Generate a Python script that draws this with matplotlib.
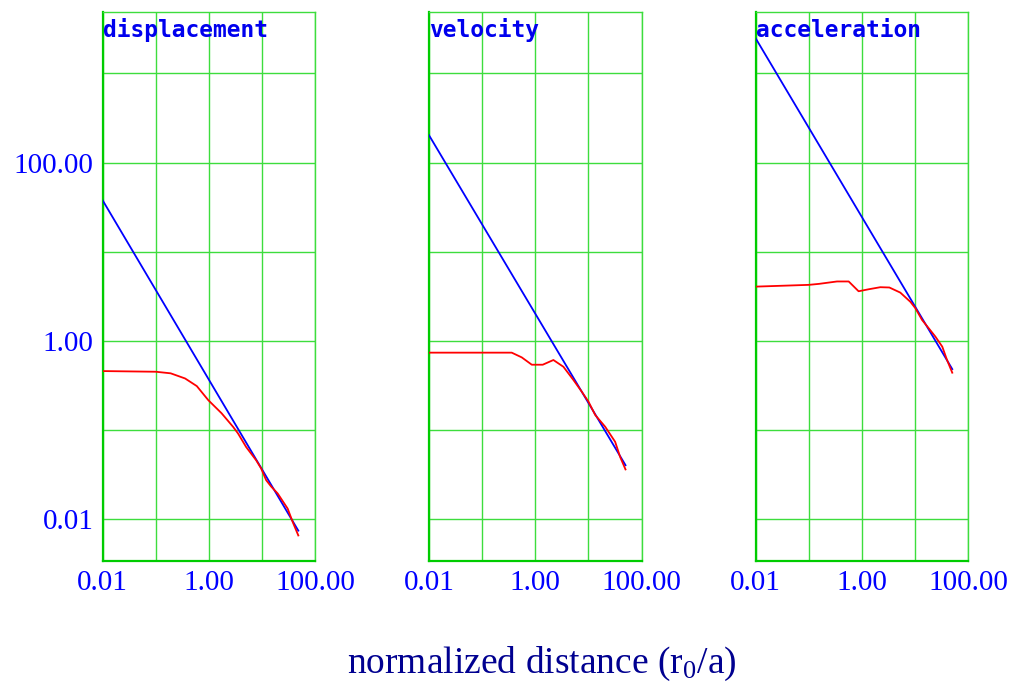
import matplotlib
matplotlib.use("Agg")
import matplotlib.pyplot as plt
import matplotlib.transforms as mtransforms

# ---- data ----
titles = ["displacement", "velocity", "acceleration"]

disp_red_x = [0.01, 0.1, 0.19, 0.355, 0.59, 0.97, 1.72, 2.84, 3.52, 5.01, 7.71, 9.57, 11.9, 14.7, 19.6, 30.2, 37.6, 47.9]
disp_red_y = [0.460, 0.452, 0.434, 0.380, 0.312, 0.217, 0.155, 0.109, 0.0918, 0.0646, 0.046, 0.0372, 0.0275, 0.0234, 0.0195, 0.0132, 0.00933, 0.0066]
disp_blue_x = [0.01, 47.9]
disp_blue_y = [37.7, 0.00747]

vel_red_x = [0.01, 0.36, 0.556, 0.859, 1.38, 2.19, 3.38, 5.22, 7.52, 10.0, 13.4, 20.7, 31.8, 39.5, 49.8]
vel_red_y = [0.740, 0.740, 0.655, 0.542, 0.542, 0.612, 0.514, 0.365, 0.269, 0.209, 0.148, 0.109, 0.074, 0.050, 0.0363]
vel_blue_x = [0.01, 49.8]
vel_blue_y = [203.0, 0.0405]

acc_red_x = [0.01, 0.1, 0.155, 0.339, 0.562, 0.863, 1.33, 2.21, 3.27, 5.25, 8.13, 10.1, 13.5, 18.0, 24.0, 32.4, 39.8, 49.9]
acc_red_y = [4.07, 4.26, 4.37, 4.65, 4.65, 3.61, 3.80, 4.01, 3.98, 3.49, 2.75, 2.33, 1.72, 1.39, 1.12, 0.863, 0.612, 0.441]
acc_blue_x = [0.01, 49.9]
acc_blue_y = [2474.0, 0.484]

x_ticks = [0.01, 0.1, 1, 10, 100]
x_ticklabels = ["0.01", "", "1.00", "", "100.00"]
y_ticks = [0.01, 0.1, 1, 10, 100, 1000]
y_ticklabels = ["0.01", "", "1.00", "", "100.00", ""]
x_label = "normalized distance (r$_0$/a)"

series = [
    (disp_red_x, disp_red_y, disp_blue_x, disp_blue_y),
    (vel_red_x, vel_red_y, vel_blue_x, vel_blue_y),
    (acc_red_x, acc_red_y, acc_blue_x, acc_blue_y),
]

# ---- figure ----
W, H = 1016, 684
fig = plt.figure(figsize=(W / 100, H / 100), dpi=100)
plt.rcParams['mathtext.fontset'] = 'custom'
plt.rcParams['mathtext.rm'] = 'Liberation Serif'
plt.rcParams['mathtext.it'] = 'Liberation Serif'

lefts = [102.7, 429.0, 755.7]
ax_w = 212.6
ax_top, ax_bot = 12.0, 561.0
grid_c = '#3ddd3d'
spine_c = '#00cc00'

for i, (left, title, (rx, ry, bx, by)) in enumerate(zip(lefts, titles, series)):
    ax = fig.add_axes([left / W, (H - ax_bot) / H, ax_w / W, (ax_bot - ax_top) / H])
    ax.set_xscale('log')
    ax.set_yscale('log')
    ax.set_xlim(0.01, 100)
    ax.set_ylim(10 ** -2.467, 10 ** 3.689)
    ax.set_axisbelow(True)
    ax.grid(True, which='major', color=grid_c, lw=1.0)
    ax.minorticks_off()
    ax.set_xticks(x_ticks)
    ax.set_xticklabels(x_ticklabels, family='Liberation Serif', fontsize=21, color='#0000ff')
    ax.set_yticks(y_ticks)
    if i == 0:
        ax.set_yticklabels(y_ticklabels, family='Liberation Serif', fontsize=21, color='#0000ff')
    else:
        ax.set_yticklabels([''] * len(y_ticks))
    ax.tick_params(length=0, pad=6.5)
    for s in ['top', 'right']:
        ax.spines[s].set_color(grid_c)
        ax.spines[s].set_linewidth(1.0)
    for s in ['left', 'bottom']:
        ax.spines[s].set_color(spine_c)
        ax.spines[s].set_linewidth(1.6)

    ax.plot(bx, by, color='#0000ff', lw=1.3, zorder=3)
    ax.plot(rx, ry, color='#ff0000', lw=1.3, zorder=4)

    trans = mtransforms.offset_copy(ax.transAxes, fig=fig, x=0, y=-25, units='dots')
    ax.text(0, 1, title, transform=trans, ha='left', va='baseline',
            family='DejaVu Sans Mono', fontweight='bold', fontsize=16.5, color='#0000ee')

fig.text(542 / W, (H - 673) / H, x_label, ha='center', va='baseline',
         family='Liberation Serif', fontsize=27, color='#000090')

fig.savefig('out.png', dpi=100)
